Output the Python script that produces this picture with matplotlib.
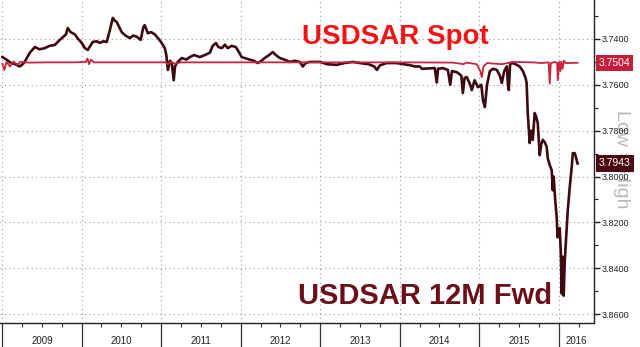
import matplotlib
matplotlib.use("Agg")
import matplotlib.pyplot as plt
import matplotlib.dates as mdates
import matplotlib.ticker as mticker
import pandas as pd

plt.rcParams['font.family'] = ['Liberation Sans', 'DejaVu Sans']

# USDSAR 12M forward
fwd_dates = [
    '2009-01-01', '2009-01-20', '2009-02-10', '2009-03-01', '2009-03-22', '2009-04-10',
    '2009-04-25', '2009-05-07', '2009-05-30', '2009-06-20', '2009-07-15', '2009-08-05',
    '2009-08-30', '2009-09-15', '2009-10-01', '2009-10-20', '2009-10-28', '2009-11-10',
    '2009-11-30', '2009-12-15', '2010-01-01', '2010-01-15', '2010-01-28', '2010-02-20',
    '2010-03-10', '2010-03-24', '2010-04-10', '2010-04-25', '2010-05-10', '2010-05-23',
    '2010-06-01', '2010-06-10', '2010-06-20', '2010-07-03', '2010-07-20', '2010-08-09',
    '2010-08-25', '2010-09-10', '2010-09-28', '2010-10-10', '2010-10-17', '2010-10-31',
    '2010-11-15', '2010-12-02', '2010-12-20', '2011-01-03', '2011-01-17', '2011-01-24',
    '2011-01-31', '2011-02-10', '2011-02-18', '2011-02-27', '2011-03-05', '2011-03-13',
    '2011-04-05', '2011-04-25', '2011-05-12', '2011-06-01', '2011-06-27', '2011-07-20',
    '2011-08-12', '2011-08-25', '2011-09-09', '2011-09-20', '2011-10-06', '2011-10-20',
    '2011-11-02', '2011-11-20', '2011-12-09', '2011-12-25', '2012-01-05', '2012-01-25',
    '2012-02-11', '2012-03-01', '2012-03-19', '2012-04-05', '2012-04-20', '2012-05-10',
    '2012-05-27', '2012-06-10', '2012-06-28', '2012-07-20', '2012-08-13', '2012-09-05',
    '2012-09-28', '2012-10-12', '2012-10-25', '2012-11-13', '2012-12-29', '2013-02-01',
    '2013-03-17', '2013-04-20', '2013-05-30', '2013-07-01', '2013-08-10', '2013-09-05',
    '2013-09-17', '2013-10-01', '2013-11-01', '2013-12-17', '2014-01-20', '2014-02-20',
    '2014-03-10', '2014-04-02', '2014-04-12', '2014-06-10', '2014-06-19', '2014-06-25',
    '2014-07-17', '2014-08-09', '2014-08-20', '2014-08-28', '2014-09-20', '2014-10-10',
    '2014-10-17', '2014-10-25', '2014-11-04', '2014-11-20', '2014-11-27', '2014-12-10',
    '2014-12-25', '2015-01-10', '2015-01-17', '2015-01-26', '2015-02-05', '2015-02-18',
    '2015-03-05', '2015-03-22', '2015-04-05', '2015-04-14', '2015-04-25', '2015-05-07',
    '2015-05-12', '2015-05-16', '2015-05-22', '2015-06-03', '2015-06-20', '2015-07-05',
    '2015-07-20', '2015-08-01', '2015-08-06', '2015-08-11', '2015-08-20', '2015-08-27',
    '2015-09-03', '2015-09-12', '2015-09-19', '2015-09-26', '2015-10-05', '2015-10-12',
    '2015-10-19', '2015-10-28', '2015-11-06', '2015-11-11', '2015-11-20', '2015-11-29',
    '2015-12-04', '2015-12-08', '2015-12-15', '2015-12-22', '2015-12-26', '2016-01-05',
    '2016-01-10', '2016-01-14', '2016-01-17', '2016-01-19', '2016-01-23', '2016-01-28',
    '2016-02-06', '2016-02-11', '2016-02-20', '2016-02-29', '2016-03-05', '2016-03-14',
    '2016-03-23', '2016-03-27',
]
fwd_vals = [
    3.7479, 3.7490, 3.7505, 3.7510, 3.7520, 3.7505,
    3.7480, 3.7460, 3.7435, 3.7445, 3.7440, 3.7430,
    3.7426, 3.7410, 3.7396, 3.7380, 3.7352, 3.7370,
    3.7380, 3.7400, 3.7418, 3.7440, 3.7448, 3.7413,
    3.7410, 3.7417, 3.7410, 3.7413, 3.7360, 3.7308,
    3.7320, 3.7326, 3.7345, 3.7370, 3.7385, 3.7396,
    3.7385, 3.7390, 3.7404, 3.7350, 3.7340, 3.7375,
    3.7370, 3.7380, 3.7400, 3.7418, 3.7440, 3.7470,
    3.7535, 3.7495, 3.7505, 3.7580, 3.7520, 3.7505,
    3.7483, 3.7490, 3.7479, 3.7470, 3.7479, 3.7470,
    3.7460, 3.7430, 3.7418, 3.7435, 3.7440, 3.7425,
    3.7440, 3.7430, 3.7435, 3.7460, 3.7479, 3.7485,
    3.7490, 3.7495, 3.7505, 3.7495, 3.7483, 3.7470,
    3.7457, 3.7470, 3.7483, 3.7490, 3.7500, 3.7495,
    3.7500, 3.7520, 3.7505, 3.7500, 3.7500, 3.7510,
    3.7513, 3.7505, 3.7500, 3.7505, 3.7510, 3.7520,
    3.7535, 3.7515, 3.7505, 3.7505, 3.7510, 3.7515,
    3.7520, 3.7520, 3.7530, 3.7527, 3.7590, 3.7530,
    3.7527, 3.7535, 3.7600, 3.7540, 3.7545, 3.7560,
    3.7636, 3.7570, 3.7566, 3.7600, 3.7623, 3.7580,
    3.7610, 3.7600, 3.7666, 3.7697, 3.7600, 3.7540,
    3.7530, 3.7535, 3.7560, 3.7592, 3.7540, 3.7520,
    3.7600, 3.7623, 3.7510, 3.7505, 3.7512, 3.7520,
    3.7540, 3.7570, 3.7592, 3.7723, 3.7854, 3.7800,
    3.7840, 3.7723, 3.7740, 3.7767, 3.7907, 3.7860,
    3.7840, 3.7850, 3.7870, 3.7920, 3.7950, 3.7972,
    3.8060, 3.8000, 3.8100, 3.8177, 3.8265, 3.8225,
    3.8334, 3.8510, 3.8380, 3.8350, 3.8520, 3.8370,
    3.8225, 3.8146, 3.8046, 3.7959, 3.7898, 3.7898,
    3.7930, 3.7943,
]

# USDSAR spot
spot_dates = [
    '2009-01-01', '2009-01-10', '2009-01-20', '2009-02-05', '2009-02-20', '2009-03-10',
    '2009-03-25', '2009-05-01', '2009-08-01', '2009-12-01', '2010-01-20', '2010-01-27',
    '2010-02-03', '2010-02-12', '2010-02-25', '2010-06-01', '2011-01-20', '2011-01-31',
    '2011-02-15', '2011-03-05', '2011-04-01', '2012-06-01', '2013-06-01', '2014-01-01',
    '2014-09-01', '2014-10-20', '2014-11-01', '2014-12-20', '2015-01-05', '2015-01-12',
    '2015-01-20', '2015-02-05', '2015-04-15', '2015-05-10', '2015-06-01', '2015-09-01',
    '2015-10-15', '2015-11-15', '2015-11-20', '2015-11-25', '2015-12-15', '2015-12-24',
    '2015-12-27', '2016-01-02', '2016-01-08', '2016-01-12', '2016-01-18', '2016-01-24',
    '2016-02-01', '2016-03-27',
]
spot_vals = [
    3.7508, 3.7535, 3.7500, 3.7520, 3.7498, 3.7512,
    3.7500, 3.7503, 3.7502, 3.7502, 3.7500, 3.7485,
    3.7510, 3.7490, 3.7502, 3.7502, 3.7502, 3.7510,
    3.7500, 3.7508, 3.7502, 3.7502, 3.7502, 3.7502,
    3.7503, 3.7510, 3.7503, 3.7510, 3.7540, 3.7566,
    3.7520, 3.7505, 3.7510, 3.7505, 3.7500, 3.7502,
    3.7505, 3.7502, 3.7595, 3.7505, 3.7500, 3.7505,
    3.7580, 3.7500, 3.7540, 3.7498, 3.7530, 3.7495,
    3.7505, 3.7504,
]

years = list(range(2009, 2017))
last_spot = 3.7504
last_fwd = 3.7943

fwd_color = '#3d0a12'
spot_color = '#c8243e'

fwd = pd.Series(fwd_vals, index=pd.to_datetime(fwd_dates))
spot = pd.Series(spot_vals, index=pd.to_datetime(spot_dates))

fig = plt.figure(figsize=(6.4, 3.47), dpi=100)
ax = fig.add_axes([0.0, 0.069, 0.928, 0.931])

ax.plot(fwd.index, fwd.values, color=fwd_color, lw=1.9, zorder=3)
ax.plot(spot.index, spot.values, color=spot_color, lw=1.3, zorder=4)

ax.set_xlim(pd.Timestamp('2008-12-21'), pd.Timestamp('2016-06-10'))
ax.set_ylim(3.8639, 3.7230)

# right y axis
ax.yaxis.tick_right()
ax.yaxis.set_major_locator(mticker.MultipleLocator(0.02))
ax.yaxis.set_minor_locator(mticker.MultipleLocator(0.01))
ax.yaxis.set_major_formatter(mticker.FormatStrFormatter('%.4f'))
ax.tick_params(axis='y', which='major', length=4, width=1, labelsize=6.5,
               pad=1.5, colors='#222222')
ax.tick_params(axis='y', which='minor', length=3, width=0.8, colors='#222222')

# x axis: year separators + quarter ticks, labels placed mid-year
ax.xaxis.set_major_locator(mdates.YearLocator())
ax.xaxis.set_minor_locator(mdates.MonthLocator(bymonth=[4, 7, 10]))
ax.xaxis.set_major_formatter(mticker.NullFormatter())
ax.tick_params(axis='x', which='major', length=17, width=0.9, color='#333333')
ax.tick_params(axis='x', which='minor', length=3, width=0.8, color='#333333')

xmax = ax.get_xlim()[1]
for y in years:
    start = mdates.date2num(pd.Timestamp(f'{y}-01-01'))
    end = min(mdates.date2num(pd.Timestamp(f'{y + 1}-01-01')), xmax)
    ax.text((start + end) / 2, -0.056, str(y), transform=ax.get_xaxis_transform(),
            ha='center', va='center', fontsize=7, color='#222222')

ax.grid(True, which='major', color='#9a9a9a', lw=0.8, linestyle=(0, (1, 3)))

for side in ['top', 'left']:
    ax.spines[side].set_visible(False)
for side in ['right', 'bottom']:
    ax.spines[side].set_color('#222222')
    ax.spines[side].set_linewidth(1)

# series names
ax.text(0.665, 0.884, 'USDSAR Spot', transform=ax.transAxes, ha='center', va='center',
        fontsize=20, fontweight='bold', color='#f21414')
ax.text(0.7155, 0.0836, 'USDSAR 12M Fwd', transform=ax.transAxes, ha='center',
        va='center', fontsize=21, fontweight='bold', color='#6b0f1a')

# last value boxes
ax.text(1.008, last_spot, f'{last_spot:.4f}', transform=ax.get_yaxis_transform(),
        ha='left', va='center', fontsize=7.5, color='white', zorder=6,
        bbox=dict(boxstyle='square,pad=0.3', fc='#c41e3a', ec='none'))
ax.text(1.008, last_fwd, f'{last_fwd:.4f}', transform=ax.get_yaxis_transform(),
        ha='left', va='center', fontsize=7.5, color='white', zorder=6,
        bbox=dict(boxstyle='square,pad=0.3', fc='#4b0a12', ec='none'))

ax.text(1.047, 0.506, 'Low = High', transform=ax.transAxes, rotation=270,
        ha='center', va='center', fontsize=14, color='#b8b8b8', zorder=0)

fig.savefig('out.png', dpi=100)
